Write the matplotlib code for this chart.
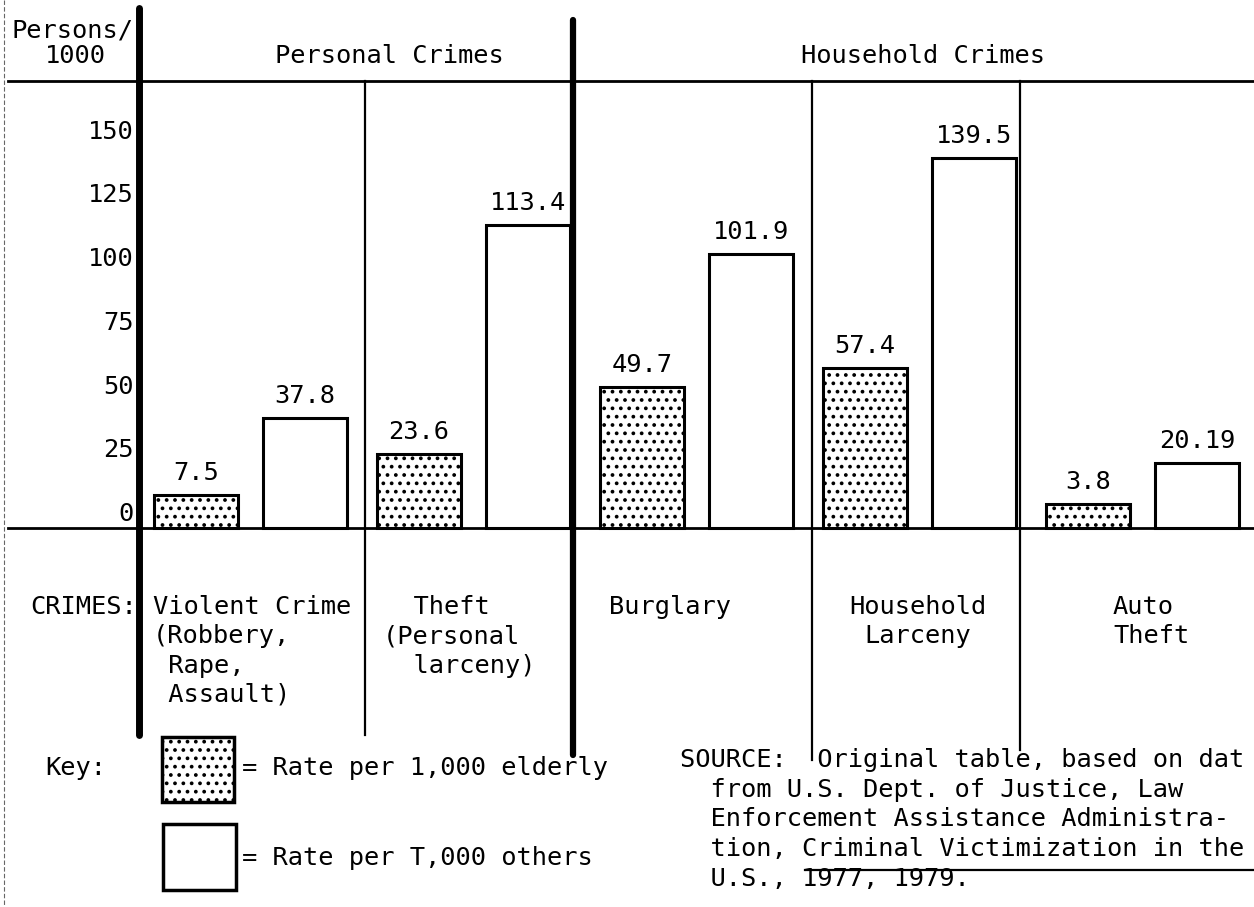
import numpy as np
import matplotlib.pyplot as plt
from matplotlib.patches import Rectangle

plt.rcParams['font.family'] = ['DejaVu Sans Mono', 'DejaVu Sans']
plt.rcParams['hatch.linewidth'] = 1.5

# data
crimes = [
    "Violent Crime\n(Robbery,\n Rape,\n Assault)",
    "  Theft\n(Personal\n  larceny)",
    "Burglary",
    "Household\nLarceny",
    "Auto\nTheft",
]
elderly = [7.5, 23.6, 49.7, 57.4, 3.8]
others = [37.8, 113.4, 101.9, 139.5, 20.19]
yticks = [0, 25, 50, 75, 100, 125, 150]
groups = ["Personal Crimes", "Household Crimes"]

W, H = 1254, 907
FS = 18.3

# pixel -> data helpers (x: category index, y: persons/1000)
def xd(px):
    return (px - 250.5) / 223.0

def yd(py):
    return (514.0 - py) / 2.55

fig = plt.figure(figsize=(W / 100, H / 100), dpi=100)
ax = fig.add_axes([0, 0, 1, 1])
ax.set_xlim(xd(0), xd(W))
ax.set_ylim(yd(H), yd(0))
ax.axis('off')

x = np.arange(len(elderly))
off, bw = 0.245, 0.375
base = yd(528)

ax.bar(x - off, np.array(elderly) - base, bw, bottom=base, color='white',
       edgecolor='black', linewidth=2.2, hatch='..', zorder=3)
ax.bar(x + off, np.array(others) - base, bw, bottom=base, color='white',
       edgecolor='black', linewidth=2.2, zorder=3)

for xi, v in zip(x - off, elderly):
    ax.text(xi, v + 8.6, f"{v:g}", ha='center', va='center', fontsize=FS)
for xi, v in zip(x + off, others):
    ax.text(xi, v + 8.6, f"{v:g}", ha='center', va='center', fontsize=FS)

# y tick labels
for t in yticks:
    ax.text(xd(134), t, str(t), ha='right', va='center', fontsize=FS)

# frame lines
ax.plot([xd(8), xd(W)], [yd(81), yd(81)], color='black', lw=2)
ax.plot([xd(8), xd(W)], [base, base], color='black', lw=2)
ax.plot([xd(139), xd(139)], [yd(8), yd(735)], color='black', lw=5, solid_capstyle='round')
ax.plot([xd(573), xd(573)], [yd(20), yd(755)], color='black', lw=4.5, solid_capstyle='round')
for px, bot in [(365, 735), (812, 760), (1020, 750)]:
    ax.plot([xd(px), xd(px)], [yd(81), yd(bot)], color='black', lw=1.6)
ax.plot([xd(4), xd(4)], [yd(0), yd(H)], color='#666666', lw=0.8, ls=(0, (4, 2)))

# headers
ax.text(xd(11), yd(30), "Persons/", ha='left', va='center', fontsize=FS)
ax.text(xd(45), yd(56), "1000", ha='left', va='center', fontsize=FS)
ax.text(xd(389), yd(56), groups[0], ha='center', va='center', fontsize=FS)
ax.text(xd(923), yd(56), groups[1], ha='center', va='center', fontsize=FS)

# category labels
ax.text(xd(30), yd(607), "CRIMES:", ha='left', va='center', fontsize=FS)
lab_pos = [(153, 'left'), (383, 'left'), (670, 'center'), (918, 'center'), (1113, 'left')]
for (px, ha), lab in zip(lab_pos, crimes):
    ax.text(xd(px), yd(595), lab, ha=ha, va='top', fontsize=FS,
            linespacing=1.28, multialignment=ha)

# key
ax.text(xd(45), yd(768), "Key:", ha='left', va='center', fontsize=FS)
ax.add_patch(Rectangle((xd(162), yd(802)), xd(234) - xd(162), yd(737) - yd(802),
                       facecolor='white', edgecolor='black', lw=2.5, hatch='..'))
ax.add_patch(Rectangle((xd(163), yd(890)), xd(236) - xd(163), yd(824) - yd(890),
                       facecolor='white', edgecolor='black', lw=2.5))
ax.text(xd(242), yd(768), "= Rate per 1,000 elderly", ha='left', va='center', fontsize=FS)
ax.text(xd(242), yd(858), "= Rate per T,000 others", ha='left', va='center', fontsize=FS)

# source
source = ("SOURCE:  Original table, based on dat\n"
          "  from U.S. Dept. of Justice, Law\n"
          "  Enforcement Assistance Administra-\n"
          "  tion, Criminal Victimization in the\n"
          "  U.S., 1977, 1979.")
ax.text(xd(680), yd(748), source, ha='left', va='top', fontsize=FS, linespacing=1.3)
ax.plot([xd(805), xd(W)], [yd(870), yd(870)], color='black', lw=1.6)

fig.savefig('out.png', dpi=100)
